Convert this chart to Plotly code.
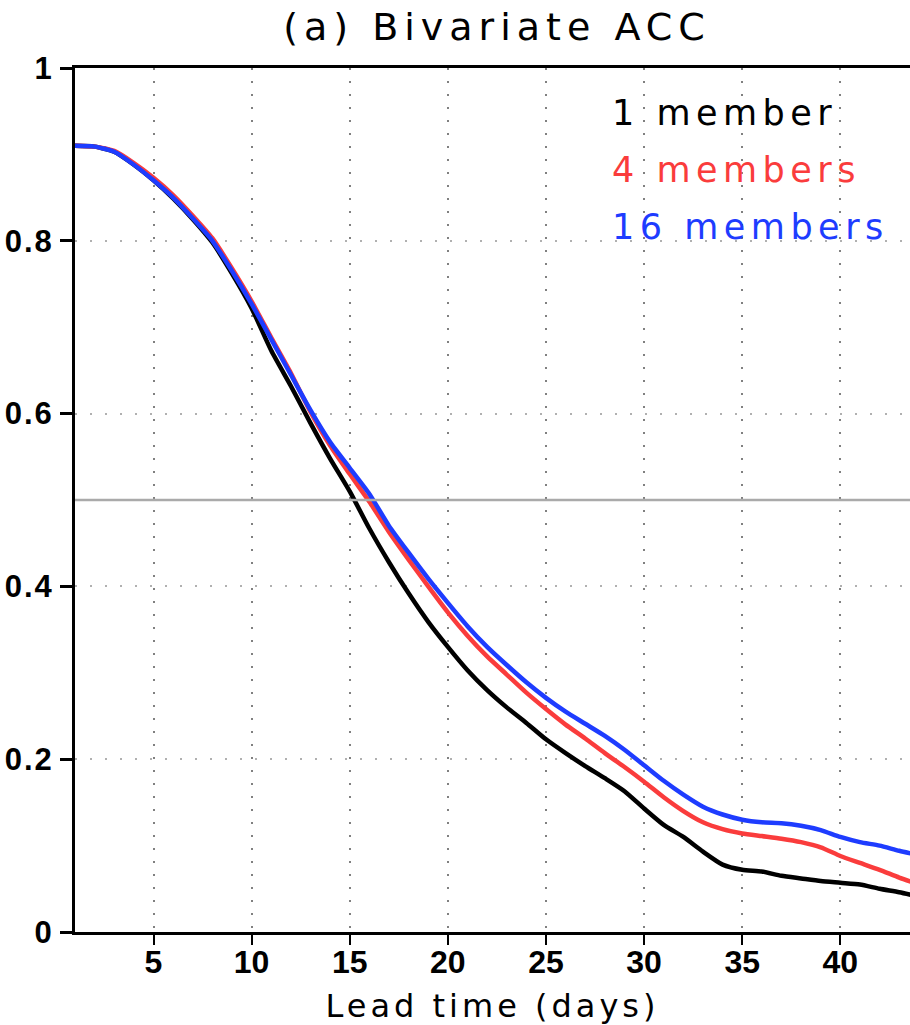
import plotly.graph_objects as go

# Lead time in days
lead_days = list(range(1, 45))

# Bivariate anomaly correlation coefficient by ensemble size
acc_1_member = [
    0.910, 0.909, 0.903, 0.888, 0.870, 0.849, 0.825, 0.798, 0.762, 0.722,
    0.673, 0.632, 0.589, 0.548, 0.510, 0.467, 0.428, 0.392, 0.359, 0.330,
    0.303, 0.280, 0.260, 0.242, 0.223, 0.207, 0.192, 0.178, 0.163, 0.143,
    0.124, 0.110, 0.093, 0.078, 0.072, 0.070, 0.065, 0.062, 0.059, 0.057,
    0.055, 0.050, 0.046, 0.041,
]
acc_4_members = [
    0.910, 0.909, 0.904, 0.890, 0.873, 0.853, 0.829, 0.803, 0.768, 0.730,
    0.688, 0.647, 0.602, 0.563, 0.530, 0.498, 0.463, 0.431, 0.400, 0.370,
    0.343, 0.319, 0.298, 0.277, 0.258, 0.240, 0.224, 0.207, 0.191, 0.174,
    0.156, 0.140, 0.127, 0.119, 0.114, 0.111, 0.108, 0.104, 0.098, 0.088,
    0.080, 0.072, 0.063, 0.055,
]
acc_16_members = [
    0.910, 0.909, 0.903, 0.888, 0.870, 0.850, 0.826, 0.800, 0.765, 0.727,
    0.686, 0.645, 0.604, 0.567, 0.537, 0.507, 0.470, 0.439, 0.409, 0.381,
    0.354, 0.330, 0.309, 0.289, 0.271, 0.255, 0.241, 0.227, 0.211, 0.193,
    0.175, 0.159, 0.145, 0.136, 0.130, 0.127, 0.126, 0.123, 0.118, 0.110,
    0.104, 0.100, 0.094, 0.089,
]

series_names = ["1 member", "4 members", "16 members"]
series_values = [acc_1_member, acc_4_members, acc_16_members]
series_colors = ["#000000", "#fa3c3c", "#1e3cff"]

x_ticks = [5, 10, 15, 20, 25, 30, 35, 40]
y_ticks = [0, 0.2, 0.4, 0.6, 0.8, 1]
y_tick_labels = ["0", "0.2", "0.4", "0.6", "0.8", "1"]
skill_threshold = 0.5


def spaced(text, px):
    return f'<span style="letter-spacing:{px}px">{text}</span>'


fig = go.Figure()

for name, vals, col in zip(series_names, series_values, series_colors):
    fig.add_trace(go.Scatter(
        x=lead_days, y=vals, mode="lines", name=name,
        line=dict(color=col, width=4.5, shape="spline", smoothing=0.6),
        showlegend=False,
    ))

# reference line at ACC = 0.5
fig.add_shape(type="line", xref="paper", x0=0, x1=1, yref="y",
              y0=skill_threshold, y1=skill_threshold,
              line=dict(color="#aaaaaa", width=2.5), layer="above")

legend_y = [0.948, 0.882, 0.816]
for name, col, yy in zip(series_names, series_colors, legend_y):
    fig.add_annotation(
        text=spaced(name, 5.5), xref="paper", yref="paper",
        x=0.6407, y=yy, xanchor="left", yanchor="middle", showarrow=False,
        font=dict(family="DejaVu Sans", size=35, color=col),
    )

fig.update_layout(
    width=910, height=1025,
    margin=dict(l=75, r=0, t=68, b=93),
    paper_bgcolor="white", plot_bgcolor="white",
    title=dict(
        text=spaced("(a) Bivariate ACC", 6),
        x=497 / 910, xref="container", xanchor="center",
        y=1 - 27 / 1025, yref="container", yanchor="middle",
        font=dict(family="DejaVu Sans", size=38, color="black"),
    ),
)

fig.update_xaxes(
    range=[1, 43.55], tickvals=x_ticks,
    ticktext=[f"<b>{v}</b>" for v in x_ticks],
    showline=True, linecolor="black", linewidth=3, mirror=True,
    ticks="outside", ticklen=10, tickwidth=2, tickcolor="black",
    ticklabelstandoff=-10,
    showgrid=True, gridcolor="#808080", gridwidth=2, griddash="2px,11px",
    zeroline=False,
    tickfont=dict(family="Liberation Sans", size=32, color="black"),
    title=dict(text=spaced("Lead time (days)", 4), standoff=18,
               font=dict(family="DejaVu Sans", size=32, color="black")),
)
fig.update_yaxes(
    range=[0, 1], tickvals=y_ticks,
    ticktext=[f"<b>{spaced(t, 2)}</b>" for t in y_tick_labels],
    showline=True, linecolor="black", linewidth=3, mirror=False,
    ticks="outside", ticklen=12, tickwidth=3, tickcolor="black",
    showgrid=True, gridcolor="#b0b0b0", gridwidth=2, griddash="2px,13px",
    zeroline=False,
    tickfont=dict(family="Liberation Sans", size=31, color="black"),
)

fig.write_html("out.html")
